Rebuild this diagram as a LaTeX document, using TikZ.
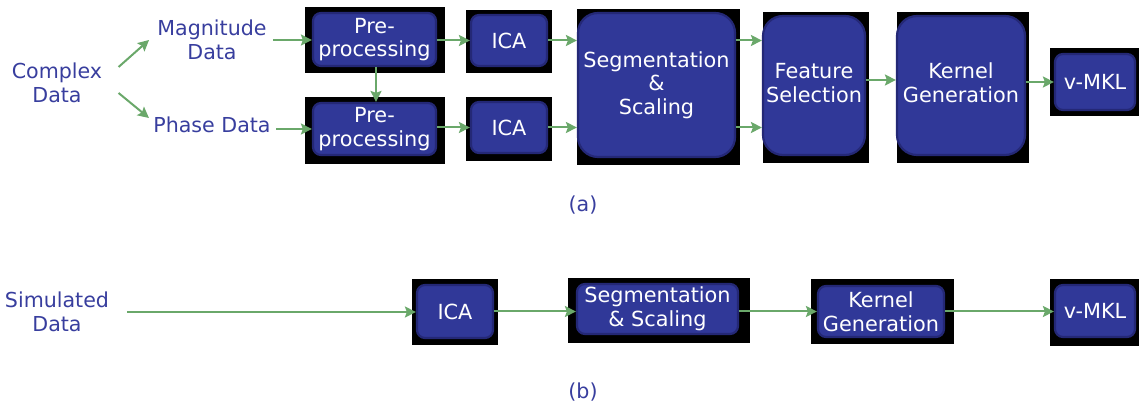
\documentclass[tikz,border=0pt]{standalone}
\usepackage{fontspec}
\setmainfont{DejaVu Sans}
\usetikzlibrary{calc,arrows.meta}
\definecolor{boxfill}{RGB}{48,56,152}
\definecolor{boxline}{RGB}{36,40,118}
\definecolor{arrgreen}{RGB}{106,168,106}
\definecolor{labblue}{RGB}{56,62,158}
\newcommand{\upstack}[2]{\raisebox{3pt}{\begin{tabular}{@{}c@{}}#1\\#2\end{tabular}}}
\tikzset{
  box/.style={draw=boxline, fill=boxfill, line width=1.1pt, rounded corners=4pt, text=white, align=center, inner sep=0pt, font=\fontsize{10.4}{11.8}\selectfont},
  bigbox/.style={box, rounded corners=10pt},
  lab/.style={text=labblue, align=center, inner sep=0pt, font=\fontsize{10.3}{12}\selectfont},
  arr/.style={draw=arrgreen, line width=1pt, -{Stealth[length=5.5pt,width=5.5pt,inset=1pt]}},
}
\begin{document}
\begin{tikzpicture}[x=0.5pt,y=-0.5pt]
\useasboundingbox (0,0) rectangle (1139,405);
% black backgrounds
\fill (305,7) rectangle (445,73);
\fill (305,97) rectangle (445,164);
\fill (466,10) rectangle (552,73);
\fill (466,97) rectangle (552,161);
\fill (577,9) rectangle (740,165);
\fill (763,12) rectangle (869,163);
\fill (897,12) rectangle (1029,163);
\fill (1050,48) rectangle (1139,116);
\fill (412,279) rectangle (498,345);
\fill (568,278) rectangle (750,343);
\fill (811,279) rectangle (954,344);
\fill (1050,279) rectangle (1139,346);
% (a)
\node[lab] (cplx) at (57,83) {Complex\\Data};
\node[lab] (mag) at (212,40) {Magnitude\\Data};
\node[lab] (phase) at (212,125) {Phase Data};
\node[box, minimum width=61.5pt, minimum height=26.5pt] (pre1) at (374.5,39.5) {Pre-\\processing};
\node[box, minimum width=61.5pt, minimum height=26pt] (pre2) at (374.5,129) {Pre-\\processing};
\node[box, minimum width=38pt, minimum height=25.5pt] (ica1) at (509,40.5) {ICA};
\node[box, minimum width=38pt, minimum height=25.5pt] (ica2) at (509,127.5) {ICA};
\node[bigbox, minimum width=78.5pt, minimum height=72pt] (seg) at (656.5,85) {Segmentation\\\&\\Scaling};
\node[bigbox, minimum width=51pt, minimum height=69.5pt] (feat) at (814,85.5) {\upstack{Feature}{Selection}};
\node[bigbox, minimum width=64pt, minimum height=69.5pt] (kern) at (961,85.5) {\upstack{Kernel}{Generation}};
\node[box, minimum width=40pt, minimum height=28pt] (mkl) at (1095,82) {v-MKL};
\node[lab] (capa) at (583,205) {(a)};
\draw[arr] ($(cplx.east)+(16,-16)$) -- ($(mag.west)+(-8,0)$);
\draw[arr] ($(cplx.east)+(16,10)$) -- ($(phase.west)+(-4,-7)$);
\draw[arr] ($(mag.east)+(6,0)$) -- (pre1.west |- mag);
\draw[arr] ($(phase.east)+(5,4)$) -- (pre2.west);
\draw[arr] (pre1.south -| 376,0) -- (pre2.north -| 376,0);
\draw[arr] (pre1.east |- ica1) -- (ica1.west);
\draw[arr] (pre2.east |- ica2) -- (ica2.west);
\draw[arr] (ica1.east) -- (seg.west |- ica1);
\draw[arr] (ica2.east) -- (seg.west |- ica2);
\draw[arr] (seg.east |- ica1) -- (feat.west |- ica1);
\draw[arr] (seg.east |- ica2) -- (feat.west |- ica2);
\draw[arr] (feat.east |- 0,80) -- (kern.west |- 0,80);
\draw[arr] (kern.east |- mkl) -- (mkl.west);
% (b)
\node[lab] (sim) at (57,312) {Simulated\\Data};
\node[box, minimum width=38pt, minimum height=26.5pt] (icab) at (455,311.5) {ICA};
\node[box, minimum width=80.5pt, minimum height=25pt] (segb) at (657.5,309) {Segmentation\\\& Scaling};
\node[box, minimum width=63pt, minimum height=25.5pt] (kernb) at (881,311.5) {Kernel\\Generation};
\node[box, minimum width=40pt, minimum height=26pt] (mklb) at (1095,311) {v-MKL};
\node[lab] (capb) at (583,392) {(b)};
\draw[arr] ($(sim.east)+(18,0)$) -- (icab.west |- sim);
\draw[arr] (icab.east) -- (segb.west |- icab);
\draw[arr] (segb.east |- icab) -- (kernb.west |- icab);
\draw[arr] (kernb.east |- icab) -- (mklb.west |- icab);
\end{tikzpicture}
\end{document}
